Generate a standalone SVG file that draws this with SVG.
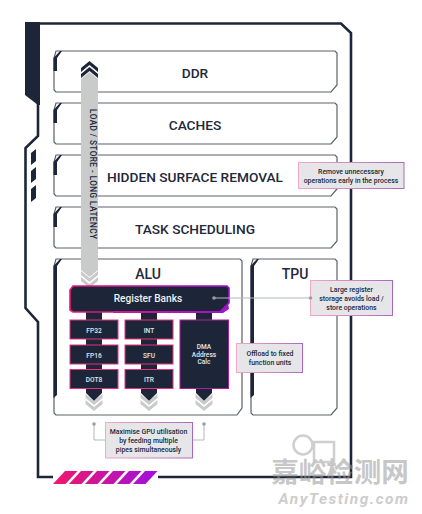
<svg xmlns="http://www.w3.org/2000/svg" width="422" height="514" viewBox="0 0 422 514">
<defs>
<linearGradient id="g" gradientUnits="userSpaceOnUse" x1="50" y1="0" x2="240" y2="0"><stop offset="0" stop-color="#f01a6a"/><stop offset="1" stop-color="#9a10d8"/></linearGradient>
<linearGradient id="s" gradientUnits="userSpaceOnUse" x1="55" y1="0" x2="157" y2="0"><stop offset="0" stop-color="#f0186a"/><stop offset="1" stop-color="#a010e0"/></linearGradient>
<linearGradient id="c" x1="0" y1="0" x2="1" y2="0"><stop offset="0" stop-color="#f3a8c4"/><stop offset="1" stop-color="#a868c0"/></linearGradient>
<polygon id="chev" points="-8.500,0 0,-7 8.500,0 8.500,4 0,-3 -8.500,4"/>
<polygon id="chevd" points="-8.500,0 0,7 8.500,0 8.500,-4 0,3 -8.500,-4"/>
</defs>
<style>
text{font-family:"Roboto","Liberation Sans",sans-serif;text-anchor:middle;fill:#20283a}
.box{fill:#fff;stroke:#5b6168;stroke-width:1.200}
.acc{fill:#1d2639}
.t{font-size:13.700px;font-weight:500}
.blk{fill:#1d2639;stroke:#e8307e;stroke-width:1}
.w{fill:#e4e8ee;font-size:6.600px;font-weight:500}
.co{fill:#e6e6e8;stroke:url(#c);stroke-width:1}
.n{font-size:6.900px;font-weight:500}
.gr{fill:#c9cbcb}
.ld{stroke:#b3b8ba;stroke-width:1;fill:none}
.dot{fill:#9a9fa3}
.fr{fill:none;stroke:#1d2639;stroke-width:2.600}
</style>
<g id="frame">
<polygon class="acc" points="25,22 40,22 40,105 38,105 25,95"/>
<path class="fr" d="M158,477 H351 V33 L341,23.500 H38"/>
<path class="fr" d="M53,477 H38 V322 L25.500,308 V148 L38,136 V100"/>
<polygon class="acc" points="31,153 36,149 36,161 31,165"/>
<polygon class="acc" points="31,171 36,167 36,179 31,183"/>
<polygon class="acc" points="31,189 36,185 36,198 31,202"/>
</g>
<g id="ddr"><path class="box" d="M56,51 H335 L337,53 V85 L331,92 H56 L54,90 V58 Z"/><polygon class="acc" points="53.500,58 60,51 62,51 57,58 57,71 53.500,71"/><text class="t" x="195" y="78">DDR</text></g>
<g id="caches"><path class="box" d="M56,103 H335 L337,105 V137 L331,144 H56 L54,142 V110 Z"/><polygon class="acc" points="53.500,110 60,103 62,103 57,110 57,123 53.500,123"/><text class="t" x="195" y="130">CACHES</text></g>
<g id="hsr"><path class="box" d="M56,155 H335 L337,157 V189 L331,196 H56 L54,194 V162 Z"/><polygon class="acc" points="53.500,162 60,155 62,155 57,162 57,175 53.500,175"/><text class="t" x="195" y="182">HIDDEN SURFACE REMOVAL</text></g>
<g id="task"><path class="box" d="M56,207 H335 L337,209 V241 L331,248 H56 L54,246 V214 Z"/><polygon class="acc" points="53.500,214 60,207 62,207 57,214 57,227 53.500,227"/><text class="t" x="195" y="234">TASK SCHEDULING</text></g>
<g id="alu"><path class="box" d="M56,259 H240 L242,261 V408 L237,415 H56 L54,413 V266 Z"/><polygon class="acc" points="53.500,266 60,259 62,259 57,266 57,395 53.500,398"/><text x="148" y="279" style="font-size:14px;font-weight:500">ALU</text></g>
<g id="tpu"><path class="box" d="M253,259 H335 L337,261 V408 L331,415 H253 L251,413 V266 Z"/><polygon class="acc" points="250.500,266 257,259 259,259 254,266 254,395 250.500,398"/><text x="295" y="279" style="font-size:14px;font-weight:500">TPU</text></g>
<g id="connectors">
<polygon class="gr" points="81,79 89.500,72 98,79 98,270 89.500,277 81,270"/>
<use href="#chev" x="89.500" y="68" fill="#1d2639"/>
<use href="#chev" x="89.500" y="74" fill="#1d2639"/>
<use href="#chevd" x="89.500" y="275" class="gr"/>
<use href="#chevd" x="89.500" y="281" class="gr"/>
<rect class="acc" x="86" y="312" width="16" height="60"/>
<rect class="acc" x="141" y="312" width="16" height="60"/>
<rect class="acc" x="196" y="312" width="16" height="10"/>
<polygon class="acc" points="86,388 102,388 102,393 94,401 86,393"/>
<polygon class="acc" points="141,388 157,388 157,393 149,401 141,393"/>
<polygon class="acc" points="196,388 212,388 212,393 204,401 196,393"/>
<use href="#chevd" x="94" y="398" class="gr"/><use href="#chevd" x="94" y="404" class="gr"/>
<use href="#chevd" x="149" y="398" class="gr"/><use href="#chevd" x="149" y="404" class="gr"/>
<use href="#chevd" x="204" y="398" class="gr"/><use href="#chevd" x="204" y="404" class="gr"/>
<path class="ld" d="M94,424 V440 H105 M204,424 V440 H193"/>
<circle class="dot" cx="94" cy="424" r="1.800"/><circle class="dot" cx="204" cy="424" r="1.800"/>
</g>
<text transform="translate(89.500,174) rotate(90)" style="font-size:8.200px;font-weight:500" textLength="130">LOAD / STORE - LONG LATENCY</text>
<g id="register-banks"><path d="M73,286 H227 L229,288 V303 L220,312 H73 L70,310 V290 Z" fill="#1d2639" stroke="url(#g)" stroke-width="1.600"/><polygon fill="url(#g)" points="113,311 220,311 228,303 229,309 223,313 113,313"/><text x="148" y="302" style="font-size:10.200px;font-weight:500;fill:#eef1f5">Register Banks</text></g>
<g id="fp32"><rect class="blk" x="70" y="320" width="48" height="19"/><text class="w" x="94" y="332.500">FP32</text></g>
<g id="fp16"><rect class="blk" x="70" y="345" width="48" height="19"/><text class="w" x="94" y="357.500">FP16</text></g>
<g id="dot8"><rect class="blk" x="70" y="369.500" width="48" height="19"/><text class="w" x="94" y="382">DOT8</text></g>
<g id="int"><rect class="blk" x="125" y="320" width="48" height="19"/><text class="w" x="149" y="332.500">INT</text></g>
<g id="sfu"><rect class="blk" x="125" y="345" width="48" height="19"/><text class="w" x="149" y="357.500">SFU</text></g>
<g id="itr"><rect class="blk" x="125" y="369.500" width="48" height="19"/><text class="w" x="149" y="382">ITR</text></g>
<g id="dma"><rect x="180" y="320" width="48.500" height="68.500" fill="#1d2639" stroke="#b01c9c" stroke-width="1"/><text class="w" x="204" y="349">DMA</text><text class="w" x="204" y="356.500">Address</text><text class="w" x="204" y="364">Calc</text></g>
<g id="note-remove"><rect class="co" x="298.500" y="162.500" width="105.500" height="26"/><text class="n" x="351" y="174">Remove unnecessary</text><text class="n" x="351" y="183">operations early in the process</text></g>
<g id="note-register"><rect class="co" x="310.500" y="280.500" width="82" height="35"/><text class="n" x="351.500" y="292">Large register</text><text class="n" x="351.500" y="301">storage avoids load /</text><text class="n" x="351.500" y="310">store operations</text></g>
<g id="note-offload"><rect class="co" x="236.500" y="343.500" width="66" height="29"/><text class="n" x="270" y="356">Offload to fixed</text><text class="n" x="270" y="365">function units</text></g>
<g id="note-gpu"><rect class="co" x="105.500" y="422.500" width="87" height="35.500"/><text class="n" x="148.500" y="434">Maximise GPU utilisation</text><text class="n" x="148.500" y="443">by feeding multiple</text><text class="n" x="148.500" y="452">pipes simultaneously</text></g>
<g id="leader"><path class="ld" d="M214,298 H310"/><circle class="dot" cx="214" cy="298" r="1.800"/><circle class="dot" cx="310.500" cy="298" r="1.800"/></g>
<g id="stripes" fill="url(#s)">
<polygon points="53,484 65,471 77.500,471 65.500,484"/>
<polygon points="69,484 81,471 93.500,471 81.500,484"/>
<polygon points="85,484 97,471 109.500,471 97.500,484"/>
<polygon points="101,484 113,471 125.500,471 113.500,484"/>
<polygon points="117,484 129,471 141.500,471 129.500,484"/>
<polygon points="133,484 145,471 157.500,471 145.500,484"/>
</g>
<g id="watermark" opacity="0.55">
<circle cx="303" cy="445" r="9.500" fill="none" stroke="#a8a8a8" stroke-width="2.500"/>
<rect x="314" y="442" width="20" height="20" fill="none" stroke="#a8a8a8" stroke-width="2.500"/>
<text x="340" y="481.500" style="font-family:'Noto Sans CJK SC',sans-serif;font-size:27.500px;font-weight:700;fill:#9a9a9a">嘉峪检测网</text>
<text x="344" y="504" style="font-size:15.500px;font-style:italic;font-weight:700;letter-spacing:1.500px;fill:#a5a5a5">AnyTesting.com</text>
</g>
</svg>
